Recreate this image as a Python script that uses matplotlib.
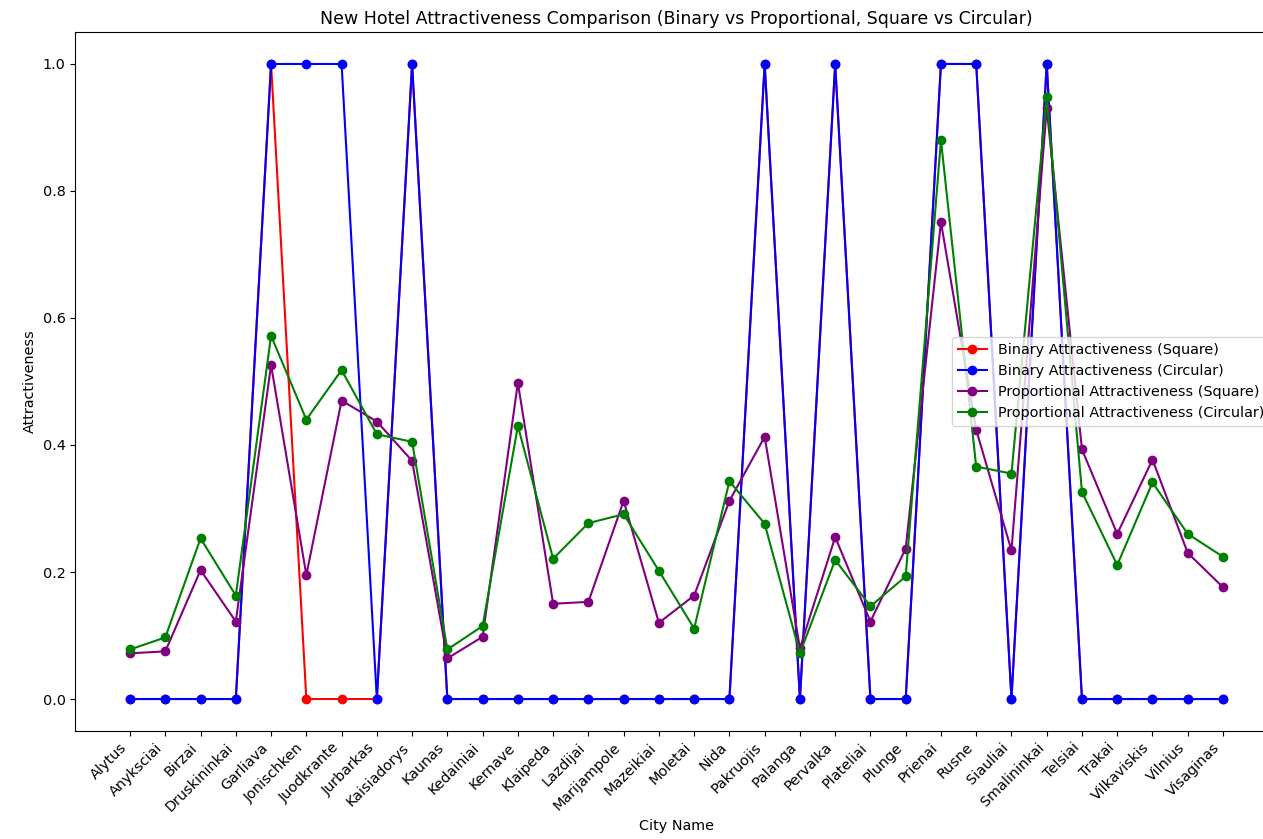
import matplotlib
matplotlib.use("Agg")
import matplotlib.pyplot as plt

plt.rcParams['font.size'] = 10.4

cities = ["Alytus", "Anyksciai", "Birzai", "Druskininkai", "Garliava", "Jonischken",
          "Juodkrante", "Jurbarkas", "Kaisiadorys", "Kaunas", "Kedainiai", "Kernave",
          "Klaipeda", "Lazdijai", "Marijampole", "Mazeikiai", "Moletai", "Nida",
          "Pakruojis", "Palanga", "Pervalka", "Plateliai", "Plunge", "Prienai", "Rusne",
          "Siauliai", "Smalininkai", "Telsiai", "Trakai", "Vilkaviskis", "Vilnius", "Visaginas"]

binary_square = [0, 0, 0, 0, 1, 0, 0, 0, 1, 0, 0, 0, 0, 0, 0, 0, 0, 0,
                 1, 0, 1, 0, 0, 1, 1, 0, 1, 0, 0, 0, 0, 0]
binary_circular = [0, 0, 0, 0, 1, 1, 1, 0, 1, 0, 0, 0, 0, 0, 0, 0, 0, 0,
                   1, 0, 1, 0, 0, 1, 1, 0, 1, 0, 0, 0, 0, 0]
prop_square = [0.072, 0.075, 0.203, 0.122, 0.526, 0.195, 0.470, 0.437, 0.375, 0.064,
               0.098, 0.498, 0.150, 0.153, 0.312, 0.120, 0.163, 0.312, 0.413, 0.080,
               0.255, 0.122, 0.237, 0.751, 0.424, 0.234, 0.930, 0.393, 0.260, 0.377,
               0.230, 0.176]
prop_circular = [0.078, 0.097, 0.253, 0.163, 0.572, 0.440, 0.518, 0.417, 0.405, 0.078,
                 0.115, 0.430, 0.221, 0.277, 0.291, 0.202, 0.111, 0.343, 0.276, 0.072,
                 0.219, 0.146, 0.193, 0.880, 0.366, 0.355, 0.948, 0.326, 0.211, 0.341,
                 0.260, 0.224]

fig = plt.figure(figsize=(12.63, 8.39), dpi=100)
ax = fig.add_axes([0.0597, 0.129, 0.9519, 0.8326])

ax.plot(cities, binary_square, marker='o', color='red', label='Binary Attractiveness (Square)')
ax.plot(cities, binary_circular, marker='o', color='blue', label='Binary Attractiveness (Circular)')
ax.plot(cities, prop_square, marker='o', color='purple', label='Proportional Attractiveness (Square)')
ax.plot(cities, prop_circular, marker='o', color='green', label='Proportional Attractiveness (Circular)')

ax.set_title('New Hotel Attractiveness Comparison (Binary vs Proportional, Square vs Circular)')
ax.set_xlabel('City Name')
ax.set_ylabel('Attractiveness')
plt.setp(ax.get_xticklabels(), rotation=45, ha='right')
ax.legend(loc='center right')

fig.savefig('out.png', dpi=100)
